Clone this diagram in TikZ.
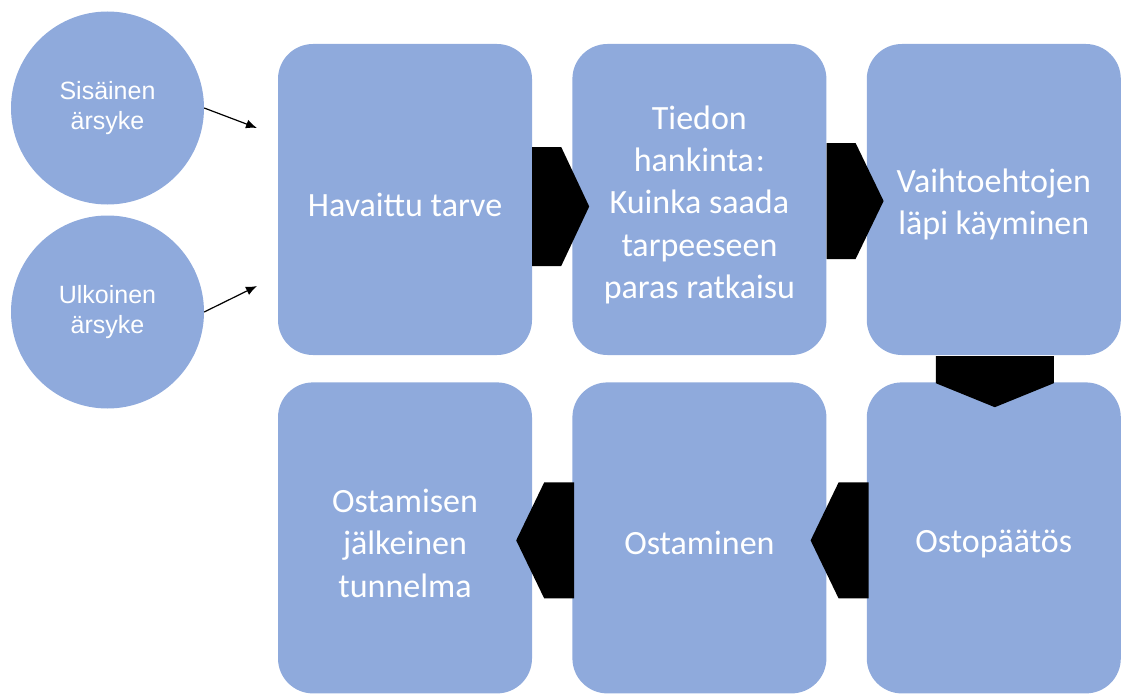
\documentclass[tikz,border=0pt]{standalone}
\usepackage{fontspec}
\setmainfont{Carlito}
\newfontfamily\arialfont{Liberation Sans}
\usetikzlibrary{positioning,calc,arrows.meta}
\definecolor{stageblue}{HTML}{8FAADC}
\newcommand\droptext{\rule{0pt}{34pt}}
\tikzset{
  stage/.style={fill=stageblue,rounded corners=35pt,minimum width=254pt,minimum height=311pt,
    text=white,align=center,font=\fontsize{34}{42.3}\selectfont},
  stimulus/.style={circle,fill=stageblue,minimum size=193pt,inner sep=0pt,
    text=white,align=center,font=\arialfont\fontsize{25}{30}\selectfont},
  chevron/.style={fill=black},
  feed/.style={-{Latex[length=11pt,width=9pt]},line width=1.2pt}
}
\begin{document}
\begin{tikzpicture}[x=1pt,y=-1pt]
\useasboundingbox (0,0) rectangle (1121,693);
\node[stimulus] (sis) at (107.5,108) {Sisäinen\\ärsyke};
\node[stimulus] (ulk) at (107.5,312) {Ulkoinen\\ärsyke};
\node[stage] (tarve) at (405,199.5) {\droptext Havaittu tarve};
\node[stage,right=40pt of tarve] (tieto) {\droptext Tiedon\\hankinta\kern2pt:\\Kuinka saada\\tarpeeseen\\paras ratkaisu};
\node[stage,right=40pt of tieto] (vaiht) {\droptext Vaihtoehtojen\\läpi käyminen};
\node[stage,below=27pt of vaiht] (paat) {\droptext Ostopäätös};
\node[stage,left=40pt of paat] (ostam) {\droptext Ostaminen};
\node[stage,left=40pt of ostam] (jalk) {\droptext Ostamisen\\jälkeinen\\tunnelma};
\coordinate (in1) at (257,128);
\coordinate (in2) at (257,286);
\draw[feed] (sis.east) -- (in1);
\draw[feed] (ulk.east) -- (in2);
% block arrows between the stages
\fill[chevron] ($(tarve.east)+(0,-52.5)$) -- ++(29,0) -- ++(28,59.5) -- ++(-28,59.5) -- ++(-29,0) -- cycle;
\fill[chevron] ($(tieto.east)+(0,-56.5)$) -- ++(29,0) -- ++(28,58) -- ++(-28,58) -- ++(-29,0) -- cycle;
\fill[chevron] ($(vaiht.south)+(-58,1)$) -- ++(118,0) -- ++(0,27) -- ++(-59,24) -- ++(-59,-24) -- cycle;
\fill[chevron] ($(paat.west)+(2,-55.5)$) -- ++(-30,0) -- ++(-28,58) -- ++(28,58) -- ++(30,0) -- cycle;
\fill[chevron] ($(ostam.west)+(2,-55.5)$) -- ++(-30,0) -- ++(-28,58) -- ++(28,58) -- ++(30,0) -- cycle;
\end{tikzpicture}
\end{document}
